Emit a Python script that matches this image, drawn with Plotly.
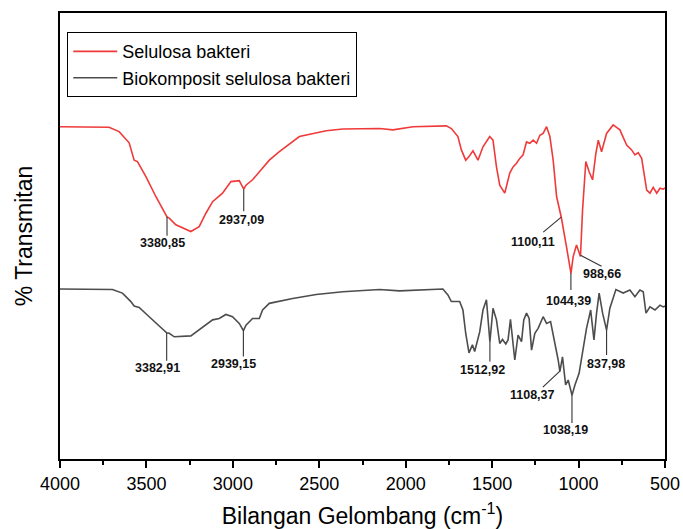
import numpy as np
import plotly.graph_objects as go

# ---------------- data ----------------
red_wn = [4000, 3716, 3658, 3600, 3571, 3552, 3503, 3445, 3381, 3368, 3330, 3243, 3195, 3156, 3117, 3060,
          3011, 2963, 2937, 2924, 2886, 2789, 2731, 2615, 2460, 2364, 2151, 2074, 1958, 1765, 1736, 1698,
          1678, 1653, 1634, 1611, 1582, 1553, 1514, 1495, 1475, 1456, 1427, 1398, 1379, 1359, 1340, 1321,
          1301, 1282, 1263, 1243, 1224, 1205, 1185, 1166, 1147, 1127, 1100, 1093, 1070, 1044, 1031, 1012,
          989, 977, 958, 939, 919, 900, 886, 867, 838, 800, 761, 722, 693, 674, 655, 635, 606, 587, 568,
          548, 529, 510, 500]
red_t = [74.5, 74.4, 73.4, 70.9, 67.0, 66.7, 63.3, 58.8, 54.3, 54.0, 52.5, 51.0, 52.1, 55.1, 57.7, 59.6,
         62.2, 62.4, 60.5, 61.4, 62.6, 67.0, 68.9, 72.3, 73.6, 74.0, 74.1, 73.8, 74.5, 74.7, 74.1, 72.3,
         69.3, 67.0, 67.8, 69.1, 67.0, 70.0, 72.3, 71.5, 65.5, 61.4, 59.6, 64.1, 65.5, 66.3, 67.4, 68.2,
         71.1, 70.8, 71.5, 70.8, 72.6, 73.0, 74.5, 72.3, 67.0, 58.8, 54.2, 52.8, 47.6, 41.6, 45.4, 48.0,
         45.4, 55.8, 66.7, 64.4, 62.6, 68.5, 71.5, 68.9, 73.0, 74.9, 73.8, 70.4, 69.3, 68.2, 68.7, 67.4,
         60.3, 59.6, 60.9, 59.6, 60.7, 60.5, 60.8]

gray_wn = [4000, 3697, 3639, 3590, 3571, 3542, 3484, 3426, 3383, 3368, 3339, 3243, 3195, 3117, 3079, 3040,
           3002, 2963, 2939, 2924, 2886, 2847, 2828, 2789, 2654, 2518, 2364, 2151, 2036, 1785, 1756, 1736,
           1688, 1669, 1653, 1634, 1614, 1601, 1572, 1553, 1533, 1513, 1495, 1475, 1456, 1440, 1421, 1408,
           1394, 1382, 1369, 1350, 1330, 1317, 1301, 1286, 1272, 1253, 1234, 1205, 1185, 1162, 1137, 1118,
           1108, 1093, 1075, 1060, 1038, 1021, 997, 973, 954, 930, 911, 896, 881, 861, 838, 819, 784, 742,
           703, 674, 645, 626, 610, 587, 558, 529, 510, 500]
gray_t = [38.1, 38.0, 37.2, 35.3, 34.3, 34.0, 31.9, 29.7, 28.3, 28.2, 27.4, 27.6, 28.9, 31.2, 31.5, 32.4,
          31.9, 30.4, 28.8, 30.0, 31.5, 31.5, 33.4, 34.9, 36.0, 36.9, 37.5, 38.0, 37.7, 38.1, 36.8, 35.3,
          35.3, 33.4, 28.2, 23.8, 25.6, 24.1, 28.5, 33.4, 35.7, 26.3, 33.8, 31.2, 25.9, 26.8, 25.8, 26.7,
          31.3, 27.4, 22.2, 27.8, 26.3, 31.2, 32.7, 31.5, 24.4, 28.2, 29.3, 31.9, 30.4, 30.8, 26.3, 22.2,
          19.6, 22.9, 16.6, 17.7, 14.3, 16.6, 19.2, 25.2, 29.3, 33.4, 26.7, 32.7, 37.2, 32.7, 28.9, 33.8,
          38.0, 37.2, 37.9, 36.4, 37.9, 37.5, 32.7, 34.1, 33.4, 34.5, 34.1, 34.3]

series_names = ["Selulosa bakteri", "Biokomposit selulosa bakteri"]

red_peaks = [3380.85, 2937.09, 1100.11, 1044.39, 988.66]
red_peak_labels = ["3380,85", "2937,09", "1100,11", "1044,39", "988,66"]
gray_peaks = [3382.91, 2939.15, 1512.92, 1108.37, 1038.19, 837.98]
gray_peak_labels = ["3382,91", "2939,15", "1512,92", "1108,37", "1038,19", "837,98"]

x_ticks = [4000, 3500, 3000, 2500, 2000, 1500, 1000, 500]
x_minor = [3750, 3250, 2750, 2250, 1750, 1250, 750]

# leader-line end offsets and label-centre offsets (pixels, +down)
red_style = [((0, 19), (-5, 26)), ((0, 22), (-2, 31)), ((-18, 15), (-28, 25)),
             ((0, 17), (-2, 28)), ((21, 11), (21, 19))]
gray_style = [((0, 28), (-9, 35)), ((0, 26), (-10, 33)), ((0, 20), (-7, 28)),
              ((-17, 16), (-27, 24)), ((0, 28), (-6, 35)), ((0, 25), (-1, 34))]

RED = "#f03a3a"
GRAY = "#4d4d4d"
FONT = "Liberation Sans, Arial, sans-serif"

fig = go.Figure()
fig.add_trace(go.Scatter(x=red_wn, y=red_t, mode="lines", name=series_names[0],
                         line=dict(color=RED, width=1.6)))
fig.add_trace(go.Scatter(x=gray_wn, y=gray_t, mode="lines", name=series_names[1],
                         line=dict(color=GRAY, width=1.6)))


def add_peaks(wn, t, peaks, labels, styles):
    xp = np.array(wn[::-1], dtype=float)
    fp = np.array(t[::-1], dtype=float)
    for p, lab, ((lx, ly), (tx, ty)) in zip(peaks, labels, styles):
        yv = float(np.interp(p, xp, fp))
        fig.add_shape(type="line", xref="x", yref="y", xsizemode="pixel", ysizemode="pixel",
                      xanchor=p, yanchor=yv, x0=0, y0=0, x1=lx, y1=-ly,
                      line=dict(color="#333333", width=1.1))
        fig.add_annotation(x=p, y=yv, xref="x", yref="y", text="<b>%s</b>" % lab,
                           showarrow=False, xshift=tx, yshift=-ty,
                           xanchor="center", yanchor="middle",
                           font=dict(family=FONT, size=12.5, color="#111111"))


add_peaks(red_wn, red_t, red_peaks, red_peak_labels, red_style)
add_peaks(gray_wn, gray_t, gray_peaks, gray_peak_labels, gray_style)

fig.update_layout(
    width=683, height=529,
    margin=dict(l=60, r=18, t=13, b=70),
    paper_bgcolor="white", plot_bgcolor="white",
    font=dict(family=FONT, color="black"),
    showlegend=True,
    legend=dict(x=0.012, y=0.957, xanchor="left", yanchor="top",
                bordercolor="black", borderwidth=1, bgcolor="white",
                font=dict(family=FONT, size=18, color="black"),
                tracegroupgap=0, itemwidth=44),
    xaxis=dict(range=[4000, 500], tickmode="array", tickvals=x_ticks,
               ticktext=[str(v) for v in x_ticks], automargin=False,
               ticks="outside", ticklen=7, tickwidth=1.5, tickcolor="black",
               minor=dict(tickmode="array", tickvals=x_minor,
                          ticks="outside", ticklen=4, tickwidth=1.5, tickcolor="black"),
               showline=True, linecolor="black", linewidth=2, mirror=True,
               showgrid=False, zeroline=False,
               tickfont=dict(family=FONT, size=18, color="black"),
               title=dict(text="Bilangan Gelombang (cm<sup>-1</sup>)",
                          font=dict(family=FONT, size=23, color="black"), standoff=17)),
    yaxis=dict(range=[0, 100], showticklabels=False, ticks="", automargin=False,
               showline=True, linecolor="black", linewidth=2, mirror=True,
               showgrid=False, zeroline=False,
               title=dict(text="% Transmitan",
                          font=dict(family=FONT, size=23, color="black"), standoff=19)),
)

fig.write_html("out.html", config={"displayModeBar": False},
               post_script="document.body.style.margin='0px';")
